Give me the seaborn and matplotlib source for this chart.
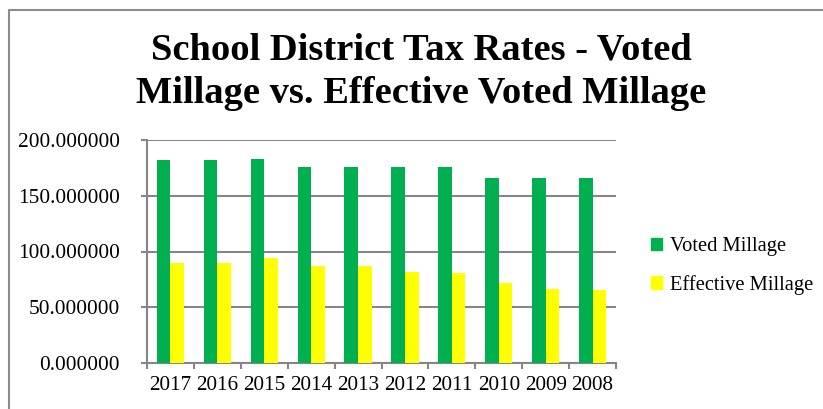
import pandas as pd
import numpy as np
import matplotlib
matplotlib.use("Agg")
import matplotlib.pyplot as plt
from matplotlib.lines import Line2D
from matplotlib.ticker import FormatStrFormatter, FixedLocator
import seaborn as sns

### Data
years = ["2017", "2016", "2015", "2014", "2013", "2012", "2011", "2010", "2009", "2008"]
voted_millage = [182.0, 182.0, 182.7, 175.5, 175.5, 175.5, 175.5, 166.0, 166.0, 166.0]
effective_millage = [90.1, 89.8, 94.6, 87.1, 87.1, 81.8, 80.9, 71.6, 66.3, 65.7]
series_names = ["Voted Millage", "Effective Millage"]
series_colors = ["#00B050", "#FFFF00"]

df = pd.DataFrame({
    "year": years * 2,
    "value": voted_millage + effective_millage,
    "series": [series_names[0]] * len(years) + [series_names[1]] * len(years),
})

### Plot
sns.set_style("white")
plt.rcParams["font.family"] = ["Liberation Serif", "DejaVu Serif"]
plt.rcParams["text.color"] = "black"

fig = plt.figure(figsize=(8.23, 4.09), dpi=100)
ax = fig.add_axes([147 / 823, 1 - 363 / 409, 469 / 823, 223 / 409])

sns.barplot(data=df, x="year", y="value", hue="series", order=years,
            hue_order=series_names, palette=series_colors, width=0.58,
            saturation=1, linewidth=0, ax=ax, zorder=3)

grey = "#868686"
ax.set_ylim(0, 200)
ax.set_xlim(-0.5, len(years) - 0.5)
ax.set_yticks([0, 50, 100, 150, 200])
ax.yaxis.set_major_formatter(FormatStrFormatter("%.6f"))
ax.yaxis.grid(True, color=grey, linewidth=1.5, zorder=0)
ax.set_axisbelow(True)
ax.set_xlabel("")
ax.set_ylabel("")

for side in ["top", "right"]:
    ax.spines[side].set_visible(False)
for side in ["left", "bottom"]:
    ax.spines[side].set_color(grey)
    ax.spines[side].set_linewidth(1.5)

ax.tick_params(axis="y", which="major", length=4.5, width=1.5, color=grey,
               labelsize=15.4, labelcolor="black", pad=15, left=True)
ax.tick_params(axis="x", which="major", length=0, labelsize=15.2,
               labelcolor="black", pad=9)
ax.xaxis.set_minor_locator(FixedLocator(np.arange(-0.5, len(years), 1.0)))
ax.tick_params(axis="x", which="minor", length=4.5, width=1.5, color=grey, bottom=True)

ax.get_legend().remove()
handles = [plt.Rectangle((0, 0), 1, 1, color=c) for c in series_colors]
fig.legend(handles, series_names, loc="center left",
           bbox_to_anchor=(632 / 823, 1 - 266 / 409), frameon=False,
           fontsize=14.8, handlelength=0.55, handleheight=0.55, handletextpad=0.4,
           labelspacing=0.9, labelcolor="black")

fig.text(0.512, 1 - 72 / 409, "School District Tax Rates - Voted\nMillage vs. Effective Voted Millage",
         ha="center", va="center", fontsize=27.7, fontweight="bold", linespacing=1.3,
         color="black")

# chart area border (Excel style frame)
fig.add_artist(Line2D([9 / 823, 9 / 823], [0, 1 - 10 / 409], transform=fig.transFigure,
                      color="#8c8c8c", linewidth=1.5))
fig.add_artist(Line2D([9 / 823, 1], [1 - 10 / 409, 1 - 10 / 409], transform=fig.transFigure,
                      color="#8c8c8c", linewidth=1.5))

fig.savefig("out.png", dpi=100)
